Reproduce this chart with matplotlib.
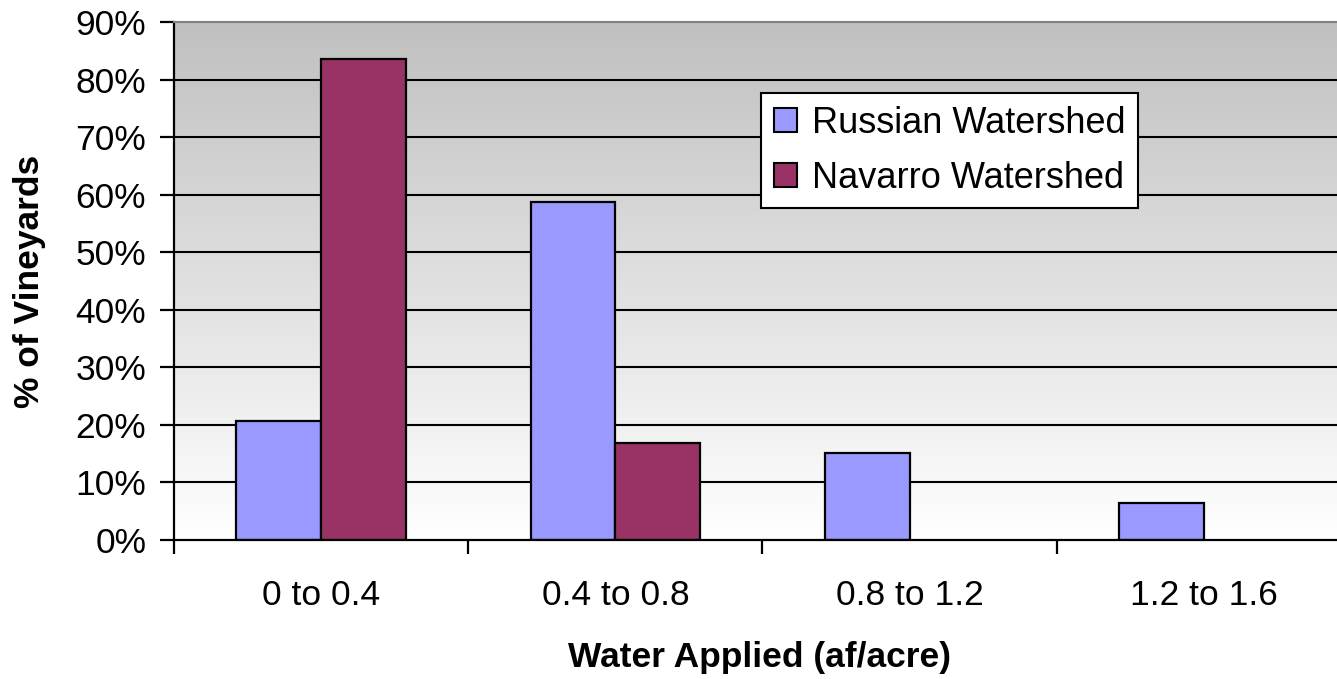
import numpy as np
import matplotlib
matplotlib.use("Agg")
import matplotlib.pyplot as plt
from matplotlib.patches import Patch

categories = ["0 to 0.4", "0.4 to 0.8", "0.8 to 1.2", "1.2 to 1.6"]
russian = [20.7, 58.8, 15.2, 6.4]
navarro = [83.6, 16.9, 0.0, 0.0]
series_names = ["Russian Watershed", "Navarro Watershed"]
yticks = [0, 10, 20, 30, 40, 50, 60, 70, 80, 90]

plt.rcParams['font.family'] = ['Liberation Sans', 'DejaVu Sans']

W, H = 1337, 679
fig = plt.figure(figsize=(W / 100, H / 100), dpi=100)
left, right, top, bottom = 174, 1351, 22, 540
ax = fig.add_axes([left / W, (H - bottom) / H, (right - left) / W, (bottom - top) / H])

x = np.arange(len(categories))
bw = 0.288
c_rus = "#9999ff"
c_nav = "#993366"

ax.set_xlim(-0.5, len(categories) - 0.5)
ax.set_ylim(0, 90)

# gradient background
grad = np.linspace(0, 1, 256).reshape(-1, 1)
ax.imshow(grad, extent=[-0.5, len(categories) - 0.5, 0, 90], aspect='auto',
          cmap=matplotlib.colors.LinearSegmentedColormap.from_list("g", ["#ffffff", "#c0c0c0"]),
          origin='lower', zorder=0)

for yv in yticks[1:-1]:
    ax.axhline(yv, color='black', lw=1.5, zorder=1)

ax.bar(x - bw / 2, russian, bw, color=c_rus, edgecolor='black', lw=1.6, zorder=2)
nav_x = [xi + bw / 2 for xi, v in zip(x, navarro) if v > 0]
nav_v = [v for v in navarro if v > 0]
ax.bar(nav_x, nav_v, bw, color=c_nav, edgecolor='black', lw=1.6, zorder=2)

ax.set_yticks(yticks)
ax.set_yticklabels([f"{v}%" for v in yticks])
ax.set_xticks(x)
ax.set_xticklabels(categories)
ax.set_xticks(np.arange(len(categories)) - 0.5, minor=True)
ax.tick_params(axis='x', which='major', length=0, pad=28, labelsize=25.5)
ax.tick_params(axis='x', which='minor', length=10, width=1.6, direction='out')
ax.tick_params(axis='y', which='major', length=10, width=1.6, direction='out', pad=10, labelsize=25.5)

for s in ['left', 'bottom']:
    ax.spines[s].set_linewidth(1.6)
    ax.spines[s].set_color('black')
ax.spines['top'].set_color('#808080')
ax.spines['top'].set_linewidth(1.5)
ax.spines['right'].set_visible(False)

fig.text(30 / W, 1 - 281 / H, "% of Vineyards", rotation=90, ha='center', va='center',
         fontsize=25.5, fontweight='bold')
fig.text(760 / W, 1 - 658 / H, "Water Applied (af/acre)", ha='center', va='center',
         fontsize=25.5, fontweight='bold')

handles = [Patch(facecolor=c_rus, edgecolor='black', lw=1.5),
           Patch(facecolor=c_nav, edgecolor='black', lw=1.5)]
leg = fig.legend(handles, series_names, loc='upper left',
                 bbox_to_anchor=(761 / W, 1 - 93 / H), fontsize=26, frameon=True,
                 fancybox=False, edgecolor='black', facecolor='white', framealpha=1,
                 handlelength=0.65, handleheight=0.65, handletextpad=0.4,
                 borderpad=0.35, labelspacing=0.55, borderaxespad=0)
leg.get_frame().set_linewidth(1.5)

fig.savefig("out.png", dpi=100)
